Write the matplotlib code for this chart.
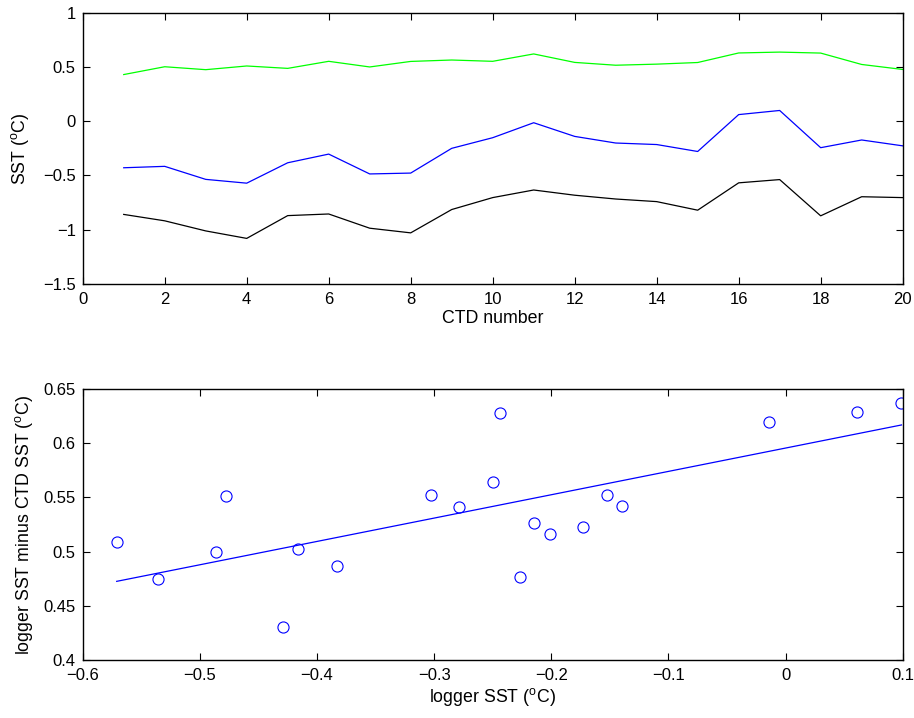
import numpy as np
import matplotlib.pyplot as plt

plt.rcParams['font.family'] = ['Liberation Sans', 'DejaVu Sans']
plt.rcParams['mathtext.fontset'] = 'custom'
plt.rcParams['mathtext.rm'] = 'Liberation Sans'
plt.rcParams['mathtext.default'] = 'regular'
plt.rcParams['font.size'] = 12

# CTD casts 1..20
ctd_no = np.arange(1, 21)
logger_sst = [-0.429, -0.416, -0.536, -0.571, -0.383, -0.303, -0.486, -0.478, -0.250, -0.152,
              -0.014, -0.140, -0.201, -0.215, -0.279, 0.061, 0.099, -0.244, -0.173, -0.227]
sst_diff = [0.430, 0.502, 0.475, 0.509, 0.487, 0.552, 0.500, 0.551, 0.564, 0.552,
            0.620, 0.542, 0.516, 0.526, 0.541, 0.629, 0.637, 0.628, 0.523, 0.477]
ctd_sst = [-0.859, -0.918, -1.011, -1.080, -0.870, -0.855, -0.986, -1.029, -0.814, -0.704,
           -0.634, -0.682, -0.717, -0.741, -0.820, -0.568, -0.538, -0.872, -0.696, -0.704]

fig = plt.figure(figsize=(9.14, 7.18), dpi=100)
ax1 = fig.add_axes([0.0905, 0.6045, 0.8971, 0.3778])
ax2 = fig.add_axes([0.0905, 0.0808, 0.8971, 0.3774])

ax1.plot(ctd_no, sst_diff, color='#00ff00', lw=0.9)
ax1.plot(ctd_no, logger_sst, color='b', lw=0.9)
ax1.plot(ctd_no, ctd_sst, color='k', lw=0.9)
ax1.set_xlim(0, 20)
ax1.set_ylim(-1.5, 1)
ax1.set_xticks(range(0, 21, 2))
ax1.set_yticks([-1.5, -1, -0.5, 0, 0.5, 1])
ax1.set_yticklabels(['\u22121.5', '\u22121', '\u22120.5', '0', '0.5', '1'])
ax1.set_xlabel('CTD number', fontsize=12.8, labelpad=2)
ax1.set_ylabel('SST ($^{o}$C)', fontsize=12.8, labelpad=9)

# linear fit of the offset against logger temperature
x = np.array(logger_sst)
y = np.array(sst_diff)
p = np.polyfit(x, y, 1)
xf = np.array([x.min(), x.max()])
ax2.plot(x, y, 'o', mfc='none', mec='b', ms=8, mew=0.8)
ax2.plot(xf, np.polyval(p, xf), color='b', lw=0.9)
ax2.set_xlim(-0.6, 0.1)
ax2.set_ylim(0.4, 0.65)
ax2.set_xticks([-0.6, -0.5, -0.4, -0.3, -0.2, -0.1, 0, 0.1])
ax2.set_xticklabels(['\u22120.6', '\u22120.5', '\u22120.4', '\u22120.3', '\u22120.2', '\u22120.1', '0', '0.1'])
ax2.set_yticks([0.4, 0.45, 0.5, 0.55, 0.6, 0.65])
ax2.set_yticklabels(['0.4', '0.45', '0.5', '0.55', '0.6', '0.65'])
ax2.set_xlabel('logger SST ($^{o}$C)', fontsize=12.8, labelpad=2)
ax2.set_ylabel('logger SST minus CTD SST ($^{o}$C)', fontsize=12.8, labelpad=6)

for ax in (ax1, ax2):
    ax.tick_params(direction='in', top=True, right=True, length=5, width=0.8)
    ax.tick_params(axis='x', pad=6)
    ax.tick_params(axis='y', pad=5)
    for s in ax.spines.values():
        s.set_linewidth(1.0)

fig.savefig('out.png', dpi=100)
